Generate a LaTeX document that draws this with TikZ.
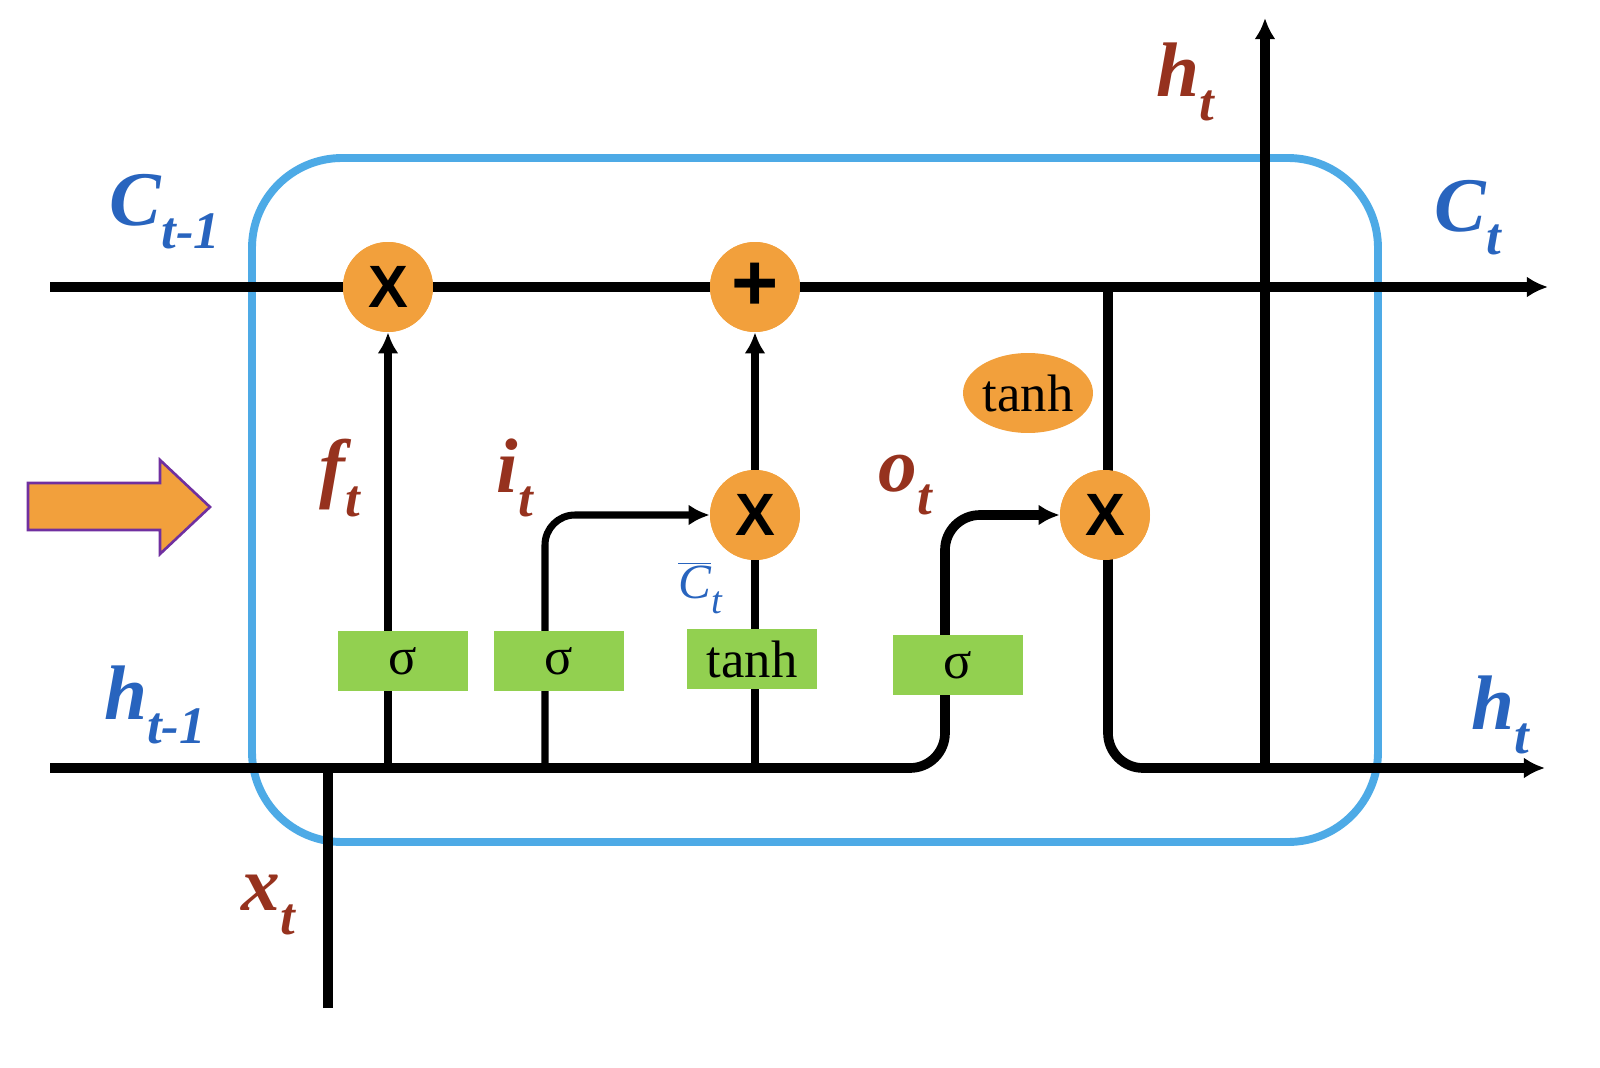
\documentclass[tikz,border=0pt]{standalone}
\usepackage{fontspec}
\setmainfont{Liberation Serif}
\newfontfamily\sansb{Liberation Sans}
\usetikzlibrary{arrows.meta,shapes.geometric}
\definecolor{cblue}{RGB}{77,170,230}
\definecolor{corange}{RGB}{242,160,60}
\definecolor{cgreen}{RGB}{146,208,80}
\definecolor{lblue}{RGB}{40,100,190}
\definecolor{lred}{RGB}{150,50,30}
\definecolor{cpurple}{RGB}{112,48,160}
\begin{document}
\begin{tikzpicture}[x=0.02cm,y=-0.02cm,
  op/.style={circle,fill=corange,minimum size=1.8cm,inner sep=0pt,font=\sansb\bfseries\fontsize{34}{34}\selectfont},
  gate/.style={fill=cgreen,minimum width=2.6cm,minimum height=1.22cm,inner sep=0pt,font=\fontsize{30}{30}\selectfont},
  thick line/.style={line width=5.5pt,line cap=butt},
  thin line/.style={line width=4pt},
  tip/.style={-{Latex[length=12pt,width=12pt]}},
  blab/.style={text=lblue,font=\bfseries\itshape\fontsize{44}{44}\selectfont},
  rlab/.style={text=lred,font=\bfseries\itshape\fontsize{44}{44}\selectfont}]
\useasboundingbox (0,0) rectangle (1600,1068);
\draw[cblue,line width=4.5pt,rounded corners=1.8cm] (252,158) rectangle (1378,842);
% nodes
\node[op] (f) at (388,287) {X};
\node[op,font=\sansb\bfseries\fontsize{46}{46}\selectfont] (p) at (755,287) {+};
\node[op] (m) at (755,515) {X};
\node[op] (o) at (1105,515) {X};
\coordinate (cin) at (50,287);
\coordinate (cout) at (1548,287);
\coordinate (hin) at (50,768);
\coordinate (hout) at (1545,768);
\coordinate (htop) at (1265,18);
\coordinate (hbase) at (1265,768);
\coordinate (xin) at (328,1008);
\coordinate (xj) at (328,768);
\coordinate (cj) at (1108,287);
\coordinate (hk) at (1108,768);
% lines
\draw[thick line,tip] (cin) -- (f) -- (p) -- (cout);
\draw[thick line,rounded corners=0.7cm,tip] (cj) -- (hk) -- (hout);
\draw[thick line,tip] (hbase) -- (htop);
\draw[thick line] (xin) -- (xj);
\draw[thick line,rounded corners=0.7cm,tip] (hin) -- (945,768) -- (945,515) -- (o.west);
\draw[thin line,tip] (388,768) -- (f.south);
\draw[thin line,rounded corners=0.6cm,tip] (545,768) -- (545,515) -- (m.west);
\draw[thin line] (755,768) -- (m.south);
\draw[thin line,tip] (m.north) -- (p.south);
% redraw circles on top
\node[op] at (388,287) {X};
\node[op,font=\sansb\bfseries\fontsize{46}{46}\selectfont] at (755,287) {+};
\node[op] at (755,515) {X};
\node[op] at (1105,515) {X};
% gates
\node[gate] (g1) at (403,661) {σ};
\node[gate] (g2) at (559,661) {σ};
\node[gate] (g3) at (752,659) {tanh};
\node[gate] (g4) at (958,665) {σ};
\node[ellipse,fill=corange,minimum width=2.6cm,minimum height=1.6cm,inner sep=0pt,font=\fontsize{30}{30}\selectfont] (th) at (1028,393) {tanh};
% big arrow
\draw[cpurple,fill=corange,line width=1.5pt] (28,483) -- (160,483) -- (160,460) -- (210,507) -- (160,554) -- (160,530) -- (28,530) -- cycle;
% labels
\node[blab] (lc1) at (165,212) {C\raisebox{-0.3em}{\fontsize{30}{30}\selectfont t-1}};
\node[blab] (lc2) at (1468,218) {C\raisebox{-0.3em}{\fontsize{30}{30}\selectfont t}};
\node[blab] (lh1) at (155,705) {h\raisebox{-0.3em}{\fontsize{30}{30}\selectfont t-1}};
\node[blab] (lh2) at (1500,715) {h\raisebox{-0.3em}{\fontsize{30}{30}\selectfont t}};
\node[rlab] (lh3) at (1185,82) {h\raisebox{-0.3em}{\fontsize{30}{30}\selectfont t}};
\node[rlab] (lf) at (340,478) {f\raisebox{-0.3em}{\fontsize{30}{30}\selectfont t}};
\node[rlab] (li) at (515,478) {i\raisebox{-0.3em}{\fontsize{30}{30}\selectfont t}};
\node[rlab] (lo) at (905,485) {o\raisebox{-0.3em}{\fontsize{30}{30}\selectfont t}};
\node[rlab] (lx) at (268,905) {x\raisebox{-0.3em}{\fontsize{30}{30}\selectfont t}};
\node[text=lblue,font=\itshape\fontsize{28}{28}\selectfont] (lcb) at (700,588) {$\overline{\mbox{C}}$\raisebox{-0.3em}{\fontsize{22}{22}\selectfont t}};
\end{tikzpicture}
\end{document}
